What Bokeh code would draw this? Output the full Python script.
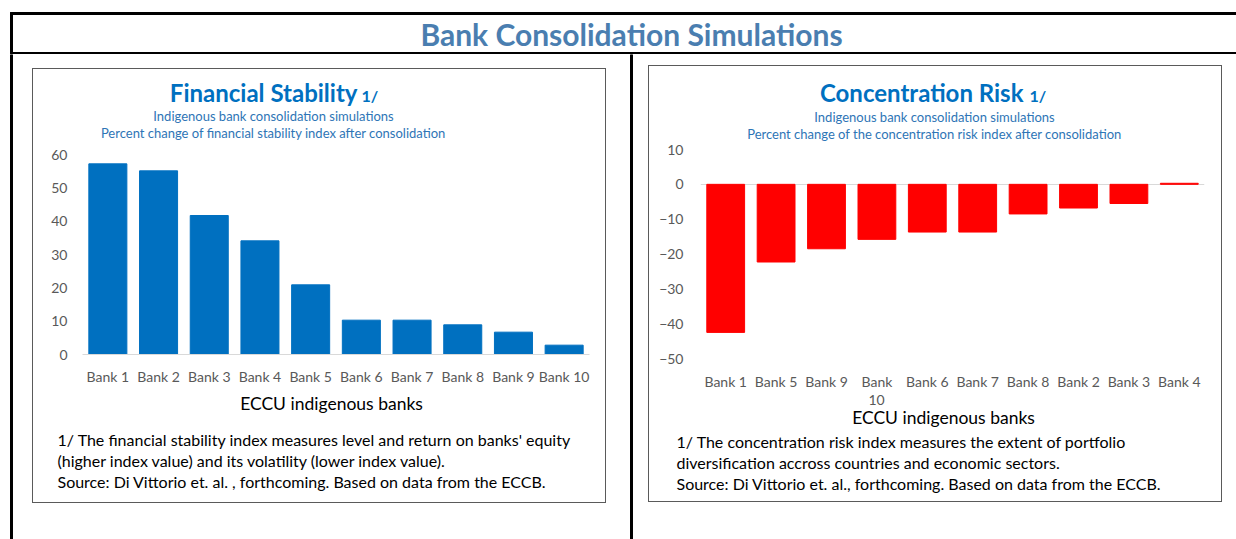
from bokeh.plotting import figure
from bokeh.layouts import column, row
from bokeh.models import Label, FactorRange, Range1d, FixedTicker, CustomJSTickFormatter
from bokeh.embed import file_html
from bokeh.resources import INLINE

# ---------------- data ----------------
main_title = "Bank Consolidation Simulations"

fs_banks = ["Bank 1", "Bank 2", "Bank 3", "Bank 4", "Bank 5",
            "Bank 6", "Bank 7", "Bank 8", "Bank 9", "Bank 10"]
fs_values = [57.2, 55.1, 41.7, 34.1, 20.9, 10.3, 10.3, 8.9, 6.7, 2.8]
fs_ticks = [0, 10, 20, 30, 40, 50, 60]

cr_banks = ["Bank 1", "Bank 5", "Bank 9", "Bank 10", "Bank 6",
            "Bank 7", "Bank 8", "Bank 2", "Bank 3", "Bank 4"]
cr_values = [-42.5, -22.3, -18.5, -15.8, -13.7, -13.7, -8.5, -6.8, -5.5, 0.3]
cr_ticks = [-50, -40, -30, -20, -10, 0, 10]

fs_title = "Financial Stability"
fs_sub = ["Indigenous bank consolidation simulations",
          "Percent change of financial stability index after consolidation"]
fs_notes = ["1/ The financial stability index measures level and return on banks' equity",
            "(higher index value) and its volatility (lower index value).",
            "Source: Di Vittorio et. al. , forthcoming. Based on data from the ECCB."]

cr_title = "Concentration Risk"
cr_sub = ["Indigenous bank consolidation simulations",
          "Percent change of the concentration risk index after consolidation"]
cr_notes = ["1/ The concentration risk index measures the extent of portfolio",
            "diversification accross countries and economic sectors.",
            "Source: Di Vittorio et. al., forthcoming. Based on data from the ECCB."]

x_title = "ECCU indigenous banks"

FONT = "Lato"
BLUE = "#0070C0"
SUBBLUE = "#2E75B6"
TICK = "#595959"
W = 572


def plain_fig(w, h):
    f = figure(width=w, height=h, toolbar_location=None, output_backend="svg",
               min_border=0, x_axis_type=None, y_axis_type=None,
               x_range=Range1d(0, w), y_range=Range1d(0, h),
               outline_line_color=None, margin=0,
               background_fill_color=None, border_fill_color=None)
    f.title.visible = False
    f.grid.visible = False
    return f


def label(p, text, x, y, size, color="black", align="left", style="normal"):
    p.add_layout(Label(x=x, y=y, x_units="screen", y_units="screen", text=text,
                       text_font=FONT, text_font_size=size, text_color=color,
                       text_align=align, text_baseline="middle",
                       text_font_style=style))


def make_chart(banks, values, ticks, yr, color, h, borders, zero_grid, xs, ys):
    p = figure(width=W, height=h, x_range=FactorRange(*banks, range_padding=0),
               y_range=Range1d(*yr), toolbar_location=None, output_backend="svg",
               min_border_left=borders[0], min_border_right=borders[1],
               min_border_top=borders[2], min_border_bottom=borders[3],
               outline_line_color=None, margin=0)
    p.title.visible = False
    p.vbar(x=banks, top=values, bottom=0, width=0.75, color=color)
    p.xgrid.visible = False
    if zero_grid:
        p.ygrid.ticker = FixedTicker(ticks=[0])
        p.ygrid.grid_line_color = "#D9D9D9"
        p.xaxis.axis_line_color = None
    else:
        p.ygrid.visible = False
        p.xaxis.axis_line_color = "#D9D9D9"
    p.yaxis.ticker = FixedTicker(ticks=ticks)
    for ax in (p.xaxis, p.yaxis):
        ax.major_tick_line_color = None
        ax.minor_tick_line_color = None
        ax.major_tick_out = 0
        ax.major_tick_in = 0
        ax.minor_tick_out = 0
        ax.minor_tick_in = 0
        ax.major_label_text_font = FONT
        ax.major_label_text_font_size = "14px"
        ax.major_label_text_color = TICK
    p.xaxis.major_label_standoff = xs
    p.yaxis.major_label_standoff = ys
    p.yaxis.axis_line_color = None
    return p


def make_box(chart, top_h, bot_h, title, subs, notes, t, s, xl, fn, extra=None):
    top = plain_fig(W, top_h)
    label(top, title, t[0], t[2], "24px", BLUE, "right", "bold")
    label(top, "1/", t[1], t[3], "16px", BLUE, "left", "bold")
    label(top, subs[0], s[0], s[1], "13px", SUBBLUE, "center")
    label(top, subs[1], s[0], s[2], "13px", SUBBLUE, "center")
    bot = plain_fig(W, bot_h)
    label(bot, x_title, xl[0], xl[1], "17.5px", "black", "center")
    for i, n in enumerate(notes):
        label(bot, n, fn[0], fn[1 + i], "16px", "black", "left")
    if extra:
        label(bot, extra[0], extra[1], extra[2], "14px", TICK, "center")
    return column(row(top, margin=0), chart, row(bot, margin=0), margin=0, spacing=0,
                  styles={"box-shadow": "0 0 0 1px #5a5a5a"})


left_chart = make_chart(fs_banks, fs_values, fs_ticks, (0, 60), BLUE, 246,
                        (49, 16, 10, 36), False, 13, 15)
left_box = make_box(left_chart, 75, 112, fs_title, fs_sub, fs_notes,
                    (324, 328, 52, 49), (240, 29, 12), (298, 99), (24, 63, 42, 21))

right_chart = make_chart(cr_banks, cr_values, cr_ticks, (-50, 10), "#FF0000", 251,
                         (51, 17, 8, 33), True, 14, 17)
# the long label wraps onto two lines in the original
right_chart.xaxis.formatter = CustomJSTickFormatter(
    code="return tick === 'Bank 10' ? 'Bank' : tick;")
right_box = make_box(right_chart, 75, 109, cr_title, cr_sub, cr_notes,
                     (374, 380, 49, 46), (285, 25, 8), (294, 84), (27, 60, 39, 18),
                     extra=("10", 227, 102))

# header with the outer frame lines
header = plain_fig(1236, 54)
header.quad(left=[10, 10, 10], right=[1236, 1236, 12], bottom=[40, 0, 0],
            top=[42, 2, 42], color="black")
header.add_layout(Label(x=631, y=21, x_units="data", y_units="data",
                        text=main_title, text_font=FONT, text_font_size="30px",
                        text_font_style="bold", text_color="#4A7EB0",
                        text_align="center", text_baseline="middle"))

BODY_H = 485
strip_l = plain_fig(33, BODY_H)
strip_l.quad(left=[10], right=[12], bottom=[0], top=[BODY_H], color="black")
strip_m = plain_fig(44, BODY_H)
strip_m.quad(left=[25], right=[27], bottom=[0], top=[BODY_H], color="black")

body = row(
    strip_l,
    column(plain_fig(W, 15), left_box, margin=0, spacing=0),
    strip_m,
    column(plain_fig(W, 12), right_box, margin=0, spacing=0),
    margin=0, spacing=0,
)

root = column(header, body, margin=0, spacing=0)

open("out.html", "w").write(file_html(root, INLINE))
